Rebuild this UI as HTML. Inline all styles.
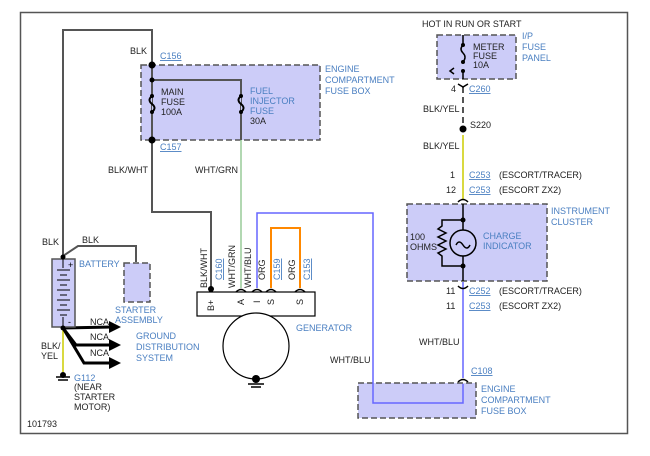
<!DOCTYPE html><html><head><style>body{margin:0;background:#fff}svg text{font-family:"Liberation Sans",sans-serif;font-size:9px}</style></head><body>
<svg width="650" height="451" viewBox="0 0 650 451" xmlns="http://www.w3.org/2000/svg">
<rect x="20.5" y="12.5" width="607" height="421" fill="none" stroke="#555" stroke-width="1.5"/>
<g fill="#ccccf8" stroke="#555" stroke-dasharray="6,3" stroke-width="1.5">
<rect x="141" y="65" width="179" height="75"/>
<rect x="437" y="35" width="79" height="44"/>
<rect x="407" y="204" width="140" height="77"/>
<rect x="358" y="383" width="118" height="35"/>
<rect x="124" y="263" width="26" height="39"/>
</g>
<g fill="none" stroke="#555" stroke-width="2">
<polyline points="63,258 63,30 152,30 152,212 211,212 211,289"/>
<polyline points="152,80 241,80 241,140"/>
<polyline points="63,256 78,246 136,246 136,262"/>
</g>
<path d="M152,96 q-5,4 0,8 q5,4 0,8" fill="#ccccf8" stroke="#000" stroke-width="2"/>
<path d="M241,96 q-5,4 0,8 q5,4 0,8" fill="#ccccf8" stroke="#000" stroke-width="2"/>
<g fill="#000"><circle cx="152" cy="65" r="3.5"/><circle cx="152" cy="80" r="2.5"/><circle cx="152" cy="140" r="3.5"/><circle cx="211" cy="289" r="3"/><circle cx="152" cy="96" r="2"/><circle cx="152" cy="112" r="2"/><circle cx="241" cy="96" r="2"/><circle cx="241" cy="112" r="2"/><circle cx="463" cy="129" r="3.5"/><circle cx="463" cy="220" r="2.5"/><circle cx="463" cy="266" r="2.5"/><circle cx="463" cy="45" r="2"/><circle cx="463" cy="62" r="2"/><circle cx="463" cy="71" r="2"/></g>
<line x1="241" y1="140" x2="241" y2="288" stroke="#9c9" stroke-width="1.5"/>
<polyline points="257,288 257,213 373,213 373,403 463,403 463,384" fill="none" stroke="#66f" stroke-width="1.5"/>
<line x1="463" y1="282" x2="463" y2="378" stroke="#66f" stroke-width="1.5"/>
<polyline points="271,288 271,228 300,228 300,288" fill="none" stroke="#f80" stroke-width="2"/>
<line x1="463" y1="135" x2="463" y2="200" stroke="#cc0" stroke-width="1.5"/>
<line x1="463" y1="87" x2="463" y2="126" stroke="#555" stroke-width="2" stroke-dasharray="6,4"/>
<line x1="63" y1="330" x2="63" y2="372" stroke="#cc0" stroke-width="1.5"/>
<rect x="197" y="292" width="118" height="24" fill="#fff" stroke="#000" stroke-width="1.2"/>
<g fill="none" stroke="#000" stroke-width="1.5">
<polyline points="463,35 463,45 M463,62 463,71 450,71"/><path d="M463,45 q-4,4 0,8 q4,4 0,9"/><path d="M454,68 l-4,3 4,3"/>
<line x1="463" y1="71" x2="463" y2="79"/>
<path d="M458,84 l5,3 5,-3"/>
<polyline points="463,204 463,220 442,220 442,226 438,229 446,233 438,237 446,241 438,245 446,249 438,253 442,256 442,266 463,266 463,281"/>
<circle cx="463" cy="243" r="13"/><line x1="463" y1="220" x2="463" y2="230"/><line x1="463" y1="256" x2="463" y2="266"/>
<path d="M456,245 q3,-6 7,0 q4,6 7,0"/>
<path d="M458,202 q5,-5 10,0"/><path d="M458,286 q5,5 10,0"/><path d="M458,382 q5,-5 10,0"/>
<path d="M236,292 q5,-5 10,0 M252,292 q5,-5 10,0 M266,292 q5,-5 10,0 M295,292 q5,-5 10,0"/>
<path d="M63,328 L112,327 M63,328 L76,345 L112,345 M63,328 L84,363 L112,363" stroke-width="3"/>
<line x1="56" y1="377" x2="70" y2="377"/><line x1="58" y1="380" x2="68" y2="380"/>
<line x1="248" y1="384" x2="264" y2="384"/><line x1="251" y1="387" x2="261" y2="387"/>
</g>
<circle cx="256" cy="346" r="33" fill="#fff" stroke="#000" stroke-width="1.2"/>
<rect x="52" y="259" width="23" height="68" fill="#ccccf8" stroke="#555" stroke-width="1.5"/>
<g stroke="#000" stroke-width="1"><line x1="57" y1="270" x2="70" y2="270"/><line x1="60" y1="275" x2="67" y2="275"/><line x1="57" y1="280" x2="70" y2="280"/><line x1="60" y1="285" x2="67" y2="285"/><line x1="57" y1="290" x2="70" y2="290"/><line x1="60" y1="295" x2="67" y2="295"/><line x1="57" y1="300" x2="70" y2="300"/><line x1="60" y1="305" x2="67" y2="305"/><line x1="57" y1="310" x2="70" y2="310"/><line x1="60" y1="315" x2="67" y2="315"/><line x1="63" y1="259" x2="63" y2="268"/><line x1="63" y1="317" x2="63" y2="327"/></g>
<g fill="#000"><circle cx="63" cy="257" r="2.5"/><circle cx="63" cy="328" r="2.5"/><text x="68" y="268" font-size="8">+</text><text x="68" y="325" font-size="8">-</text>
<path d="M109,321 l12,6 -12,6z M109,339 l12,6 -12,6z M109,357 l12,6 -12,6z"/><circle cx="63" cy="375" r="3"/><circle cx="256" cy="379" r="4"/></g>
<g fill="#222">
<text x="130" y="54">BLK</text><text x="161" y="95">MAIN</text><text x="161" y="105">FUSE</text><text x="161" y="115">100A</text>
<text x="250" y="124">30A</text><text x="108" y="173">BLK/WHT</text><text x="195" y="173">WHT/GRN</text>
<text x="42" y="245">BLK</text><text x="82" y="243">BLK</text><text x="90" y="325">NCA</text><text x="90" y="340">NCA</text><text x="90" y="356">NCA</text>
<text x="41" y="349">BLK/</text><text x="41" y="359">YEL</text><text x="74" y="390">(NEAR</text><text x="74" y="400">STARTER</text><text x="74" y="410">MOTOR)</text><text x="27" y="427">101793</text>
<text x="422" y="27">HOT IN RUN OR START</text><text x="473" y="50">METER</text><text x="473" y="59">FUSE</text><text x="473" y="68">10A</text>
<text x="451" y="92">4</text><text x="423" y="112">BLK/YEL</text><text x="470" y="128">S220</text><text x="423" y="149">BLK/YEL</text>
<text x="450" y="178">1</text><text x="446" y="193">12</text><text x="499" y="178">(ESCORT/TRACER)</text><text x="499" y="193">(ESCORT ZX2)</text>
<text x="410" y="240">100</text><text x="410" y="250">OHMS</text>
<text x="446" y="294">11</text><text x="446" y="309">11</text><text x="499" y="294">(ESCORT/TRACER)</text><text x="499" y="309">(ESCORT ZX2)</text>
<text x="419" y="345">WHT/BLU</text><text x="330" y="363">WHT/BLU</text>
<text x="214" y="311" transform="rotate(-90 214 311)">B+</text><text x="244" y="305" transform="rotate(-90 244 305)">A</text><text x="260" y="303" transform="rotate(-90 260 303)">I</text><text x="274" y="305" transform="rotate(-90 274 305)">S</text><text x="303" y="305" transform="rotate(-90 303 305)">S</text>
<text x="207" y="288" transform="rotate(-90 207 288)">BLK/WHT</text><text x="235" y="288" transform="rotate(-90 235 288)">WHT/GRN</text><text x="251" y="288" transform="rotate(-90 251 288)">WHT/BLU</text><text x="265" y="280" transform="rotate(-90 265 280)">ORG</text><text x="295" y="280" transform="rotate(-90 295 280)">ORG</text>
</g>
<g fill="#4a7fc1">
<text x="325" y="72">ENGINE</text><text x="325" y="83">COMPARTMENT</text><text x="325" y="94">FUSE BOX</text>
<text x="250" y="94">FUEL</text><text x="250" y="104">INJECTOR</text><text x="250" y="114">FUSE</text>
<text x="79" y="267">BATTERY</text><text x="115" y="313">STARTER</text><text x="115" y="323">ASSEMBLY</text>
<text x="136" y="339">GROUND</text><text x="136" y="350">DISTRIBUTION</text><text x="136" y="361">SYSTEM</text>
<text x="74" y="381">G112</text><text x="296" y="331">GENERATOR</text>
<text x="522" y="39">I/P</text><text x="522" y="50">FUSE</text><text x="522" y="61">PANEL</text>
<text x="551" y="214">INSTRUMENT</text><text x="551" y="225">CLUSTER</text><text x="483" y="239">CHARGE</text><text x="483" y="249">INDICATOR</text>
<text x="481" y="392">ENGINE</text><text x="481" y="403">COMPARTMENT</text><text x="481" y="414">FUSE BOX</text>
<g text-decoration="underline"><text x="160" y="59">C156</text><text x="160" y="150">C157</text><text x="469" y="92">C260</text><text x="469" y="178">C253</text><text x="469" y="193">C253</text><text x="469" y="294">C252</text><text x="469" y="309">C253</text><text x="471" y="374">C108</text>
<text x="222" y="280" transform="rotate(-90 222 280)">C160</text><text x="280" y="280" transform="rotate(-90 280 280)">C159</text><text x="310" y="280" transform="rotate(-90 310 280)">C153</text></g>
</g>
</svg></body></html>
